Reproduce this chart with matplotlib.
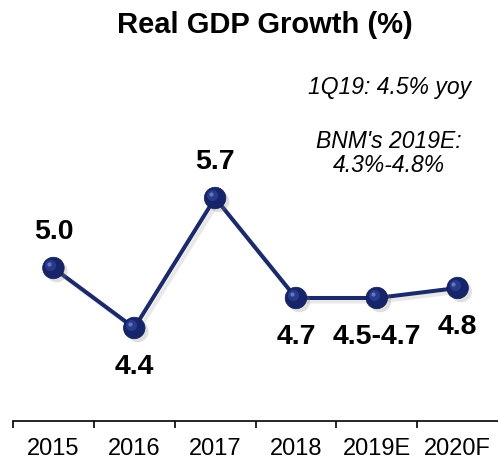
import matplotlib
matplotlib.use("Agg")
import matplotlib.pyplot as plt
import matplotlib.patheffects as pe
from matplotlib.transforms import offset_copy

plt.rcParams["font.family"] = ["Liberation Sans", "DejaVu Sans"]

# Chart data
years = ["2015", "2016", "2017", "2018", "2019E", "2020F"]
growth = [5.0, 4.4, 5.7, 4.7, 4.7, 4.8]
value_labels = ["5.0", "4.4", "5.7", "4.7", "4.5-4.7", "4.8"]
label_above = [True, False, True, False, False, False]
note_top = "1Q19: 4.5% yoy"
note_bnm = "BNM's 2019E:\n4.3%-4.8%"

NAVY = "#1a2a6a"

fig = plt.figure(figsize=(4.98, 4.61), dpi=100)
ax = fig.add_axes([0.0261, 0.0868, 0.974, 0.8048])

x = list(range(len(years)))

# line with a soft shadow
ax.plot(x, growth, color=NAVY, linewidth=2.9, zorder=3,
        path_effects=[pe.SimpleLineShadow(offset=(2.5, -2.5), shadow_color="gray", alpha=0.18),
                      pe.Normal()])
# spheres: shadow, body, highlight
ax.plot(x, growth, linestyle="none", marker="o", markersize=15.5,
        color="#16246a", markeredgecolor="#101b50", markeredgewidth=0.5, zorder=4,
        path_effects=[pe.SimplePatchShadow(offset=(2.5, -2.5), shadow_rgbFace="gray", alpha=0.25),
                      pe.Normal()])
hl = offset_copy(ax.transData, fig=fig, x=-2.2, y=2.2, units="points")
ax.plot(x, growth, linestyle="none", marker="o", markersize=8,
        color="#2f449a", markeredgewidth=0, alpha=0.7, zorder=5, transform=hl)
hl2 = offset_copy(ax.transData, fig=fig, x=-3, y=3, units="points")
ax.plot(x, growth, linestyle="none", marker="o", markersize=3,
        color="#7f90cc", markeredgewidth=0, alpha=0.7, zorder=6, transform=hl2)

for xi, yi, lab, above in zip(x, growth, value_labels, label_above):
    off = 26 if above else -28
    ax.annotate(lab, (xi, yi), xytext=(0, off), textcoords="offset points",
                ha="center", va="center", fontsize=20.5, fontweight="bold")

ax.set_xlim(-0.5, 5.5)
ax.set_ylim(3.47, 7.18)

ax.set_xticks([i - 0.5 for i in range(len(years))])
ax.set_xticklabels([])
ax.set_xticks(x, minor=True)
ax.set_xticklabels(years, minor=True, fontsize=17)
ax.tick_params(axis="x", which="major", direction="out", length=5, width=1.2, color="black")
ax.tick_params(axis="x", which="minor", length=0, pad=12)
ax.set_yticks([])

for side in ["top", "right", "left"]:
    ax.spines[side].set_visible(False)
ax.spines["bottom"].set_linewidth(1.2)

fig.text(0.532, 0.946, "Real GDP Growth (%)", ha="center", va="center",
         fontsize=21, fontweight="bold")
fig.text(0.783, 0.811, note_top, ha="center", va="center", fontsize=16.5, style="italic")
fig.text(0.781, 0.668, note_bnm, ha="center", va="center", fontsize=16.5, style="italic",
         linespacing=1.05)

fig.savefig("out.png", dpi=100)
